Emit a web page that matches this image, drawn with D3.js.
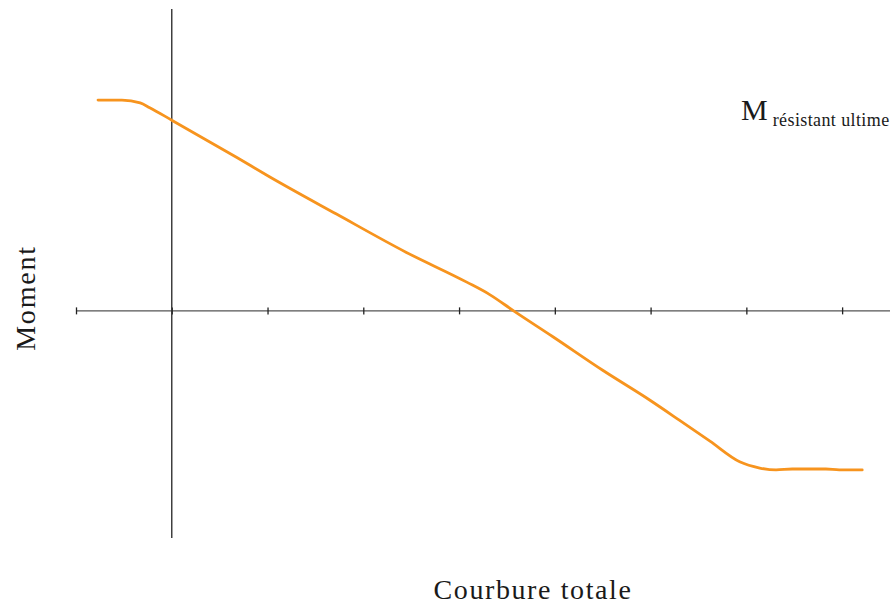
<!DOCTYPE html>
<html>
<head>
<meta charset="utf-8">
<script src="https://cdn.jsdelivr.net/npm/d3@7"></script>
<style>
  html, body { margin: 0; padding: 0; background: #fff; }
  svg { display: block; }
  text { font-family: "Liberation Serif", "DejaVu Serif", serif; fill: #1a1a1a; }
</style>
</head>
<body>
<svg id="chart" width="896" height="606"></svg>
<script>
// Data (curvature units vs moment units)
const curvature = [-0.77, -0.52, -0.33, -0.23, 0, 0.68, 1.02, 1.72, 2.45, 3.08, 3.32, 3.57, 3.98, 4.50, 4.99, 5.30, 5.62, 5.93, 6.14, 6.31, 6.48, 6.83, 6.97, 7.21];
const moment    = [2.20, 2.20, 2.17, 2.12, 1.99, 1.60, 1.40, 1.01, 0.61, 0.30, 0.17, 0, -0.27, -0.62, -0.93, -1.14, -1.36, -1.575, -1.64, -1.66, -1.65, -1.65, -1.66, -1.66];
const xTicks = [-1, 0, 1, 2, 3, 4, 5, 6, 7];
const xTitle = "Courbure totale";
const yTitle = "Moment";
const labelMain = "M";
const labelSub = "résistant ultime";

const svg = d3.select("#chart");

const x = d3.scaleLinear().domain([-1, 7.5]).range([76, 890]);
const y = d3.scaleLinear().domain([-2.37, 3.15]).range([538, 9]);

// horizontal axis line
svg.append("line")
  .attr("x1", x(-1)).attr("x2", x(7.5))
  .attr("y1", y(0)).attr("y2", y(0))
  .attr("stroke", "#555").attr("stroke-width", 1.4);

// ticks centred on the axis
const xAxis = d3.axisBottom(x).tickValues(xTicks).tickSize(7).tickFormat("");
const gx = svg.append("g")
  .attr("transform", `translate(0,${y(0) - 3.5})`)
  .call(xAxis);
gx.select(".domain").remove();
gx.selectAll(".tick line").attr("stroke", "#222").attr("stroke-width", 1.3);

// vertical axis line
svg.append("line")
  .attr("x1", x(0)).attr("x2", x(0))
  .attr("y1", y(3.15)).attr("y2", y(-2.37))
  .attr("stroke", "#333").attr("stroke-width", 1.4);

// curve
const pts = curvature.map((c, i) => [c, moment[i]]);
const line = d3.line()
  .x(d => x(d[0]))
  .y(d => y(d[1]))
  .curve(d3.curveMonotoneX);
svg.append("path")
  .datum(pts)
  .attr("d", line)
  .attr("fill", "none")
  .attr("stroke", "#f7941e")
  .attr("stroke-width", 2.8)
  .attr("stroke-linejoin", "round")
  .attr("stroke-linecap", "round");

// titles
svg.append("text")
  .attr("x", 533).attr("y", 599)
  .attr("text-anchor", "middle")
  .attr("font-size", 28)
  .attr("letter-spacing", 1.6)
  .text(xTitle);

svg.append("text")
  .attr("transform", "translate(35,298) rotate(-90)")
  .attr("text-anchor", "middle")
  .attr("font-size", 28)
  .attr("letter-spacing", 1.8)
  .text(yTitle);

// M résistant ultime label
const lbl = svg.append("text").attr("x", 741).attr("y", 120);
lbl.append("tspan").attr("font-size", 30).text(labelMain);
lbl.append("tspan").attr("font-size", 18).attr("dx", 5).attr("dy", 5.5).attr("letter-spacing", 0.4).text(labelSub);
</script>
</body>
</html>
